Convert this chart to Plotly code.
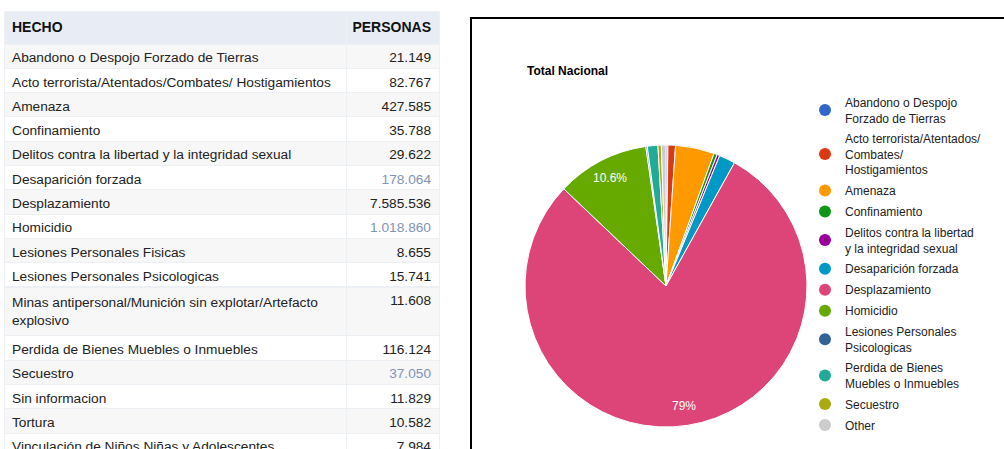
import math
import plotly.graph_objects as go

# ---- data ----
hechos = [
    "Abandono o Despojo Forzado de Tierras",
    "Acto terrorista/Atentados/Combates/ Hostigamientos",
    "Amenaza",
    "Confinamiento",
    "Delitos contra la libertad y la integridad sexual",
    "Desaparición forzada",
    "Desplazamiento",
    "Homicidio",
    "Lesiones Personales Fisicas",
    "Lesiones Personales Psicologicas",
    "Minas antipersonal/Munición sin explotar/Artefacto explosivo",
    "Perdida de Bienes Muebles o Inmuebles",
    "Secuestro",
    "Sin informacion",
    "Tortura",
    "Vinculación de Niños Niñas y Adolescentes",
]
personas = [21149, 82767, 427585, 35788, 29622, 178064, 7585536, 1018860,
            8655, 15741, 11608, 116124, 37050, 11829, 10582, 7984]
linked = ["Desaparición forzada", "Homicidio", "Secuestro"]

legend_names = {
    "Abandono o Despojo Forzado de Tierras": "Abandono o Despojo<br>Forzado de Tierras",
    "Acto terrorista/Atentados/Combates/ Hostigamientos": "Acto terrorista/Atentados/<br>Combates/<br>Hostigamientos",
    "Delitos contra la libertad y la integridad sexual": "Delitos contra la libertad<br>y la integridad sexual",
    "Lesiones Personales Psicologicas": "Lesiones Personales<br>Psicologicas",
    "Perdida de Bienes Muebles o Inmuebles": "Perdida de Bienes<br>Muebles o Inmuebles",
}

palette = ["#3366cc", "#dc3912", "#ff9900", "#109618", "#990099", "#0099c6",
           "#dd4477", "#66aa00", "#b82e2e", "#316395", "#994499", "#22aa99",
           "#aaaa11", "#6633cc", "#e67300", "#8b0707"]
other_color = "#cccccc"

# ---- helpers ----
def fmt_num(v):
    return f"{v:,}".replace(",", ".")

def fmt_pct(p):
    s = f"{p*100:.1f}"
    if s.endswith(".0"):
        s = s[:-2]
    return s + "%"

total = sum(personas)
threshold = total / 720.0
pie_labels, pie_values, pie_colors = [], [], []
other = 0
for i, (h, v) in enumerate(zip(hechos, personas)):
    if v < threshold:
        other += v
    else:
        pie_labels.append(h)
        pie_values.append(v)
        pie_colors.append(palette[i % len(palette)])
if other:
    pie_labels.append("Other")
    pie_values.append(other)
    pie_colors.append(other_color)

W, H = 1004, 449
FONT = "Arial, Liberation Sans, sans-serif"

row_fill = ["#f7f7f7" if i % 2 == 0 else "#ffffff" for i in range(len(hechos))]
val_colors = ["#8193b9" if h in linked else "#222222" for h in hechos]

fig = go.Figure()
fig.add_trace(go.Table(
    domain=dict(x=[4 / W, 439 / W], y=[0, 1 - 11 / H]),
    columnwidth=[342, 93],
    header=dict(
        values=["<b>HECHO</b>", "<b>PERSONAS</b>"],
        align=["left", "right"],
        fill_color="#e8edf5",
        line_color="#eef0f4",
        font=dict(family=FONT, size=14, color="#111111"),
        height=33,
    ),
    cells=dict(
        values=[hechos, [fmt_num(v) for v in personas]],
        align=["left", "right"],
        fill_color=[row_fill, row_fill],
        line_color="#eceff3",
        font=dict(family=FONT, size=13.7, color=[["#222222"] * len(hechos), val_colors]),
        height=24.3,
    ),
))

# pie geometry (paper fractions)
pdx = [525 / W, 807 / W]
pdy = [1 - 427 / H, 1 - 145 / H]
fig.add_trace(go.Pie(
    labels=pie_labels,
    values=pie_values,
    textinfo="none",
    marker=dict(colors=pie_colors, line=dict(color="#ffffff", width=1)),
    sort=False,
    direction="clockwise",
    rotation=0,
    domain=dict(x=pdx, y=pdy),
    showlegend=False,
    hoverinfo="label+value+percent",
))

# legend entries with circular markers (one per visible slice)
for lab, col in zip(pie_labels, pie_colors):
    fig.add_trace(go.Scatter(
        x=[None], y=[None], mode="markers",
        marker=dict(symbol="circle", size=12, color=col),
        name=legend_names.get(lab, lab), legendgroup=lab,
        showlegend=True, hoverinfo="skip",
    ))

# percent labels for large slices, placed along the slice's mid angle
cx = (pdx[0] + pdx[1]) / 2 * W
cy = (1 - (pdy[0] + pdy[1]) / 2) * H
R = min((pdx[1] - pdx[0]) * W, (pdy[1] - pdy[0]) * H) / 2
annotations = [dict(text="<b>Total Nacional</b>", xref="paper", yref="paper",
                    x=525 / W, y=1 - 71 / H, xanchor="left", yanchor="middle",
                    showarrow=False, font=dict(family=FONT, size=12, color="#000000"))]
cum = 0.0
for v in pie_values:
    frac = v / total
    if frac >= 0.05:
        theta = 2 * math.pi * (cum + frac / 2)
        px = cx + 0.86 * R * math.sin(theta)
        py = cy - 0.86 * R * math.cos(theta)
        annotations.append(dict(text=fmt_pct(frac), xref="paper", yref="paper",
                                x=px / W, y=1 - py / H, xanchor="center", yanchor="middle",
                                showarrow=False, font=dict(family=FONT, size=12, color="#ffffff")))
    cum += frac

fig.update_layout(
    width=W, height=H,
    margin=dict(l=0, r=0, t=0, b=0),
    paper_bgcolor="#ffffff",
    plot_bgcolor="#ffffff",
    font=dict(family=FONT, size=12, color="#222222"),
    showlegend=True,
    xaxis=dict(visible=False, domain=[0.99, 1.0]),
    yaxis=dict(visible=False, domain=[0.99, 1.0]),
    legend=dict(
        x=805 / W, y=1 - 88 / H, xanchor="left", yanchor="top",
        font=dict(family=FONT, size=12, color="#222222"),
        bgcolor="rgba(0,0,0,0)", tracegroupgap=2,
    ),
    shapes=[dict(type="rect", xref="paper", yref="paper",
                 x0=471 / W, x1=1.05, y0=-0.05, y1=1 - 18 / H,
                 line=dict(color="#000000", width=2), fillcolor="rgba(0,0,0,0)")],
    annotations=annotations,
)

fig.write_html("out.html", config={"displayModeBar": False},
               post_script="document.body.style.margin='0px';")
